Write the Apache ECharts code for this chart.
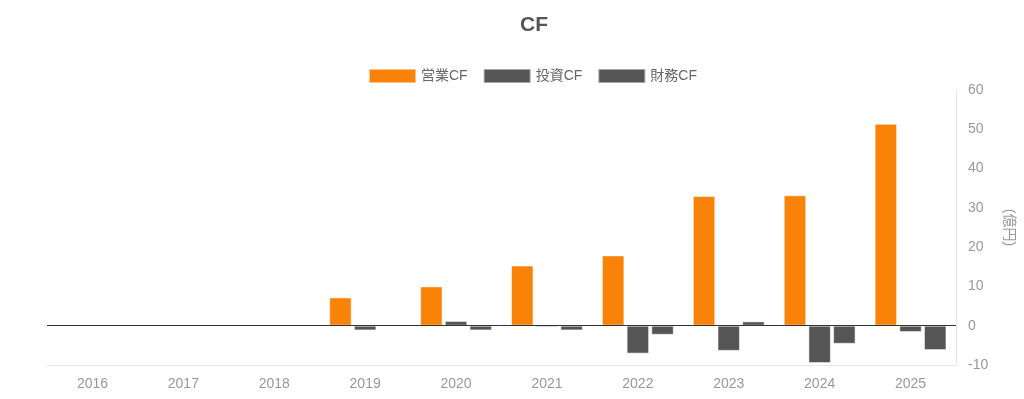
<!DOCTYPE html>
<html><head><meta charset="utf-8">
<script src="https://cdn.jsdelivr.net/npm/echarts@6/dist/echarts.min.js"></script>
<style>html,body{margin:0;padding:0;background:#fff}#c{width:1024px;height:399px}</style>
</head><body><div id="c"></div>
<script>
const categories = ['2016','2017','2018','2019','2020','2021','2022','2023','2024','2025'];
const operatingCF = [null, null, null, 7.2, 10.0, 15.3, 17.9, 33.0, 33.2, 51.4];
const investingCF = [null, null, null, -1.2, 1.2, -0.4, -7.1, -6.4, -9.5, -1.6];
const financingCF = [null, null, null, null, -1.2, -1.2, -2.3, 1.1, -4.6, -6.2];
const seriesNames = ['営業CF', '投資CF', '財務CF'];
const yTicks = {min: -10, max: 60, interval: 10};

const chart = echarts.init(document.getElementById('c'), null, {renderer: 'canvas'});
const font = '"Liberation Sans", Arial, "Noto Sans CJK JP", sans-serif';
const mkBar = (name, data, color, extra) => Object.assign({
  name, type: 'bar', data,
  barGap: '10%', barCategoryGap: '21%',
  itemStyle: {color, borderColor: 'rgba(255,255,255,0.5)', borderWidth: 1}
}, extra || {});
chart.setOption({
  animation: false,
  textStyle: {fontFamily: font},
  title: {text: 'CF', left: 515, top: 10, textStyle: {fontSize: 21, fontWeight: 'bold', color: '#555', fontFamily: font}},
  legend: {left: 363, top: 63, itemWidth: 47, itemHeight: 14, itemGap: 15, icon: 'rect',
    textStyle: {color: '#666', fontSize: 14, fontFamily: font},
    data: seriesNames},
  grid: {left: 47, right: 62, top: 90, bottom: 34},
  xAxis: {type: 'category', data: categories,
    axisLine: {show: true, onZero: false, lineStyle: {color: '#e6e6e6'}},
    axisTick: {show: false},
    axisLabel: {color: '#999', fontSize: 14, margin: 12, fontFamily: font}},
  yAxis: {type: 'value', position: 'right', min: yTicks.min, max: yTicks.max, interval: yTicks.interval,
    name: '(億円)', nameLocation: 'middle', nameGap: 46, nameRotate: -90,
    nameTextStyle: {color: '#999', fontSize: 14, fontFamily: font},
    axisLine: {show: true, lineStyle: {color: '#e6e6e6'}},
    axisTick: {show: false},
    splitLine: {show: false},
    axisLabel: {color: '#999', fontSize: 14, margin: 12, fontFamily: font}},
  series: [
    mkBar(seriesNames[0], operatingCF, '#F98309', {
      markLine: {silent: true, symbol: 'none', label: {show: false},
        lineStyle: {color: '#333', width: 1, type: 'solid'},
        data: [{yAxis: 0}]}
    }),
    mkBar(seriesNames[1], investingCF, '#555555'),
    mkBar(seriesNames[2], financingCF, '#555555')
  ]
});
</script></body></html>
